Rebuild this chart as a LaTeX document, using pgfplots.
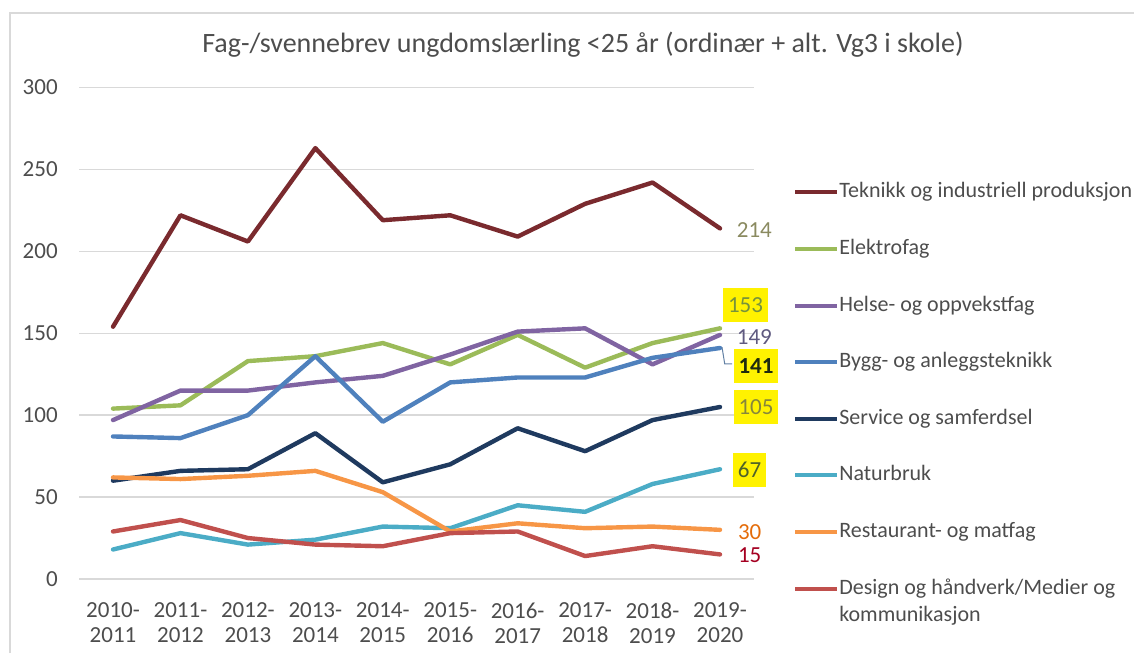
\documentclass[border=0pt]{standalone}
\usepackage{fontspec}
\setmainfont{Carlito}
\usepackage{pgfplots}
\usepackage{pgfplotstable}
\pgfplotsset{compat=1.18}

\definecolor{tek}{HTML}{7A2A2E}
\definecolor{ele}{HTML}{9BBB59}
\definecolor{hel}{HTML}{8064A2}
\definecolor{byg}{HTML}{4F81BD}
\definecolor{ser}{HTML}{1F3A5F}
\definecolor{nat}{HTML}{4BACC6}
\definecolor{res}{HTML}{F79646}
\definecolor{des}{HTML}{C0504D}
\definecolor{txt}{HTML}{4D4D4D}
\definecolor{gridc}{HTML}{D9D9D9}
\definecolor{lTek}{HTML}{8A8A60}
\definecolor{lEle}{HTML}{76923C}
\definecolor{lHel}{HTML}{5F5A80}
\definecolor{lByg}{HTML}{1E2A0F}
\definecolor{lSer}{HTML}{86863C}
\definecolor{lNat}{HTML}{4F6228}
\definecolor{lRes}{HTML}{E46C0A}
\definecolor{lDes}{HTML}{A50021}

% x = 0 (2010-2011) ... 9 (2019-2020)
\pgfplotstableread{
x tek ele hel byg ser nat res des
0 154 104  97  87  60 18 62 29
1 222 106 115  86  66 28 61 36
2 206 133 115 100  67 21 63 25
3 263 136 120 136  89 24 66 21
4 219 144 124  96  59 32 53 20
5 222 131 137 120  70 31 29 28
6 209 149 151 123  92 45 34 29
7 229 129 153 123  78 41 31 14
8 242 144 131 135  97 58 32 20
9 214 153 149 141 105 67 30 15
}\datatable

\begin{document}
\begin{tikzpicture}[
  lbl/.style={font=\fontsize{11.5}{12}\selectfont, inner sep=0pt, anchor=center},
  box/.style={lbl, fill=yellow, inner xsep=2.5pt, minimum height=17pt}]
\path[use as bounding box] (0,0) rectangle (567pt,326.5pt);
\draw[gridc, line width=0.6pt] (5pt,0) -- (5pt,320pt) -- (570pt,320pt);

\begin{axis}[
  at={(39.65pt,37pt)}, anchor=south west,
  scale only axis, width=337.2pt, height=245.75pt,
  xmin=-0.5, xmax=9.5, ymin=0, ymax=300,
  clip=false,
  axis line style={draw=none},
  major tick length=0pt,
  ytick={0,50,...,300},
  ymajorgrids, grid style={gridc, line width=0.75pt},
  xtick={0,...,9},
  xticklabels={{2010-\\2011},{2011-\\2012},{2012-\\2013},{2013-\\2014},{2014-\\2015},
               {2015-\\2016},{2016-\\2017},{2017-\\2018},{2018-\\2019},{2019-\\2020}},
  xticklabel style={align=center, font=\fontsize{11.5}{12.5}\selectfont, text=txt,
                    anchor=north, inner sep=0pt, yshift=-11.8pt},
  yticklabel style={font=\fontsize{11.5}{12}\selectfont, text=txt,
                    anchor=east, inner sep=0pt, xshift=-10.6pt},
  /pgf/number format/assume math mode=true,
  every axis plot/.append style={line width=2.2pt, line join=round, line cap=round},
  legend image code/.code={\draw[#1, line width=2pt, line cap=butt] (0pt,0pt) -- (21pt,0pt);},
  legend style={at={(axis description cs:1,1)}, anchor=north west,
                xshift=19.6pt, yshift=-47pt, draw=none, fill=none,
                font=\fontsize{11}{12.5}\selectfont, text=txt,
                inner sep=0pt, row sep=17.8pt,
                cells={anchor=west},
                nodes={inner xsep=0pt, inner ysep=0pt, align=left,
                       text height=8pt, text depth=2.5pt}},
]
\addplot[tek] table[x=x, y=tek] {\datatable};
\addlegendentry{Teknikk og industriell produksjon}
\addplot[ele] table[x=x, y=ele] {\datatable};
\addlegendentry{Elektrofag}
\addplot[hel] table[x=x, y=hel] {\datatable};
\addlegendentry{Helse- og oppvekstfag}
\addplot[byg] table[x=x, y=byg] {\datatable};
\addlegendentry{Bygg- og anleggsteknikk}
\addplot[ser] table[x=x, y=ser] {\datatable};
\addlegendentry{Service og samferdsel}
\addplot[nat] table[x=x, y=nat] {\datatable};
\addlegendentry{Naturbruk}
\addplot[res] table[x=x, y=res] {\datatable};
\addlegendentry{Restaurant- og matfag}
\addplot[des] table[x=x, y=des] {\datatable};
\addlegendentry{\vtop{\baselineskip=13.5pt\hbox{Design og håndverk/Medier og}\hbox{kommunikasjon}}}

% data labels at the last category
\draw[color=byg!60!gray, line width=0.5pt] (axis cs:9.03,141.5) -- (axis cs:9.07,131.3) -- (axis cs:9.18,131.3);
\node[lbl, text=lTek] at (axis cs:9.51,213) {214};
\node[box, text=lEle] at (axis cs:9.378,167.3) {153};
\node[lbl, text=lHel] at (axis cs:9.51,147.7) {149};
\node[box, text=lByg, font=\fontsize{11.5}{12}\selectfont\bfseries] at (axis cs:9.534,130) {141};
\node[box, text=lSer] at (axis cs:9.534,105) {105};
\node[box, text=lNat] at (axis cs:9.438,66.5) {67};
\node[lbl, text=lRes] at (axis cs:9.44,28.7) {30};
\node[lbl, text=lDes] at (axis cs:9.44,14.7) {15};
\end{axis}

\node[font=\fontsize{14}{16}\selectfont, text=txt] at (291.5pt,304pt)
  {Fag-/svennebrev ungdomslærling <25 år (ordinær + alt. Vg3 i skole)};
\end{tikzpicture}
\end{document}
